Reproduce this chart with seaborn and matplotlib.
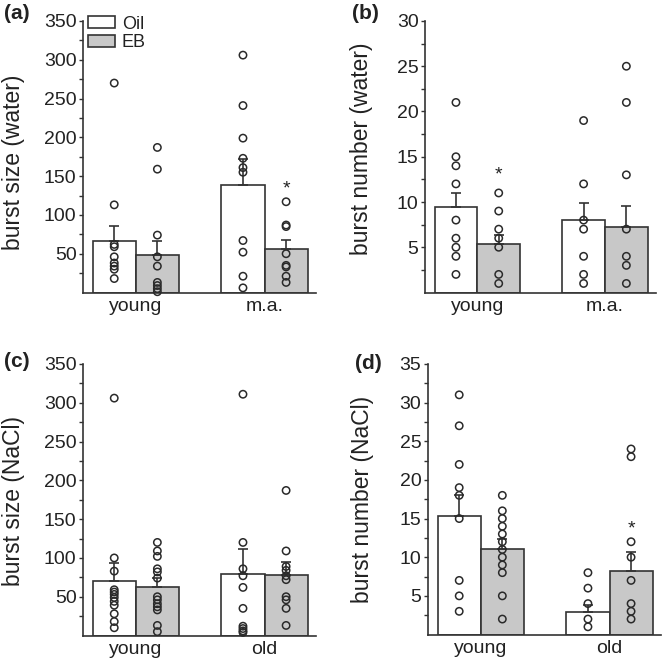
import numpy as np
import pandas as pd
import matplotlib
matplotlib.use("Agg")
import matplotlib.pyplot as plt
import seaborn as sns
from matplotlib.patches import Patch
from matplotlib.container import BarContainer

# ---------------- data ----------------
treatments = ["Oil", "EB"]
groups_water = ["young", "m.a."]
groups_nacl = ["young", "old"]

# (a) burst size (water)
a_oil_young = [270, 113, 62, 59, 46, 38, 34, 30, 18]
a_eb_young = [187, 159, 74, 46, 34, 13, 9, 5, 1]
a_oil_ma = [306, 241, 199, 173, 161, 155, 67, 52, 21, 6]
a_eb_ma = [117, 87, 85, 50, 35, 33, 21, 13]
a_mean_oil = [66, 138]
a_mean_eb = [48.6, 56.3]
a_sem_oil = [19.3, 33.5]
a_sem_eb = [18.0, 11.2]
a_star = [("m.a.", "EB", 134)]

# (b) burst number (water)
b_oil_young = [21, 15, 14, 12, 8, 6, 5, 4, 2]
b_eb_young = [11, 9, 7, 6, 5, 2, 1]
b_oil_ma = [19, 12, 8, 7, 4, 2, 1]
b_eb_ma = [25, 21, 13, 7, 4, 3, 1]
b_mean_oil = [9.4, 8.05]
b_mean_eb = [5.4, 7.2]
b_sem_oil = [1.6, 1.85]
b_sem_eb = [0.9, 2.36]
b_star = [("young", "EB", 13)]

# (c) burst size (NaCl)
c_oil_young = [306, 100, 83, 59, 56, 53, 49, 44, 39, 28, 18, 10]
c_eb_young = [120, 109, 102, 86, 82, 74, 50, 46, 41, 37, 33, 13, 5]
c_oil_old = [311, 120, 86, 77, 62, 35, 12, 9, 6, 4]
c_eb_old = [187, 109, 89, 84, 77, 72, 50, 46, 35, 13]
c_mean_oil = [70.6, 78.8]
c_mean_eb = [62.5, 78.4]
c_sem_oil = [22.4, 32.2]
c_sem_eb = [11.5, 16.6]
c_star = []

# (d) burst number (NaCl)
d_oil_young = [31, 27, 22, 19, 18, 15, 7, 5, 3]
d_eb_young = [18, 16, 15, 14, 13, 12, 11, 10, 9, 8, 5, 2]
d_oil_old = [8, 6, 4, 2, 1]
d_eb_old = [24, 23, 12, 10, 7, 4, 3, 2]
d_mean_oil = [15.3, 2.93]
d_mean_eb = [11.08, 8.2]
d_sem_oil = [2.7, 0.87]
d_sem_eb = [1.32, 2.5]
d_star = [("old", "EB", 13.6)]

# ---------------- style ----------------
EDGE = "#333333"
EB_GRAY = "#c8c8c8"
sns.set_style("ticks")
plt.rcParams["font.family"] = ["Liberation Sans", "DejaVu Sans"]
plt.rcParams["text.color"] = "#222222"

fig = plt.figure(figsize=(6.62, 6.60), dpi=100)


def panel(rect, groups, points, means, sems, ymax, major, ylabel, stars,
          label_x, label_y=0.5, legend=False):
    ax = fig.add_axes(rect)
    summ = pd.DataFrame({
        "group": [g for t in treatments for g in groups],
        "treatment": [t for t in treatments for g in groups],
        "mean": [m for t in treatments for m in means[t]],
        "sem": [s for t in treatments for s in sems[t]],
    })
    sns.barplot(data=summ, x="group", y="mean", hue="treatment",
                order=groups, hue_order=treatments,
                palette={"Oil": "white", "EB": EB_GRAY},
                width=0.67, edgecolor=EDGE, linewidth=1.2,
                errorbar=None, legend=False, ax=ax, zorder=2)

    bar_conts = [c for c in ax.containers if isinstance(c, BarContainer)]
    centers = {}
    for ti, cont in enumerate(bar_conts):
        for bar in cont:
            cx = bar.get_x() + bar.get_width() / 2
            gi = int(round(cx))
            centers[(groups[gi], treatments[ti])] = cx
    for (g, t), cx in centers.items():
        row = summ[(summ.group == g) & (summ.treatment == t)].iloc[0]
        ax.errorbar([cx], [row["mean"]], yerr=[[0], [row["sem"]]], fmt="none",
                    ecolor=EDGE, elinewidth=1.2, capsize=3.3, capthick=1.2,
                    zorder=3)

    rows = []
    for (g, t), vals in points.items():
        for v in vals:
            rows.append({"x": centers[(g, t)], "value": v})
    pts = pd.DataFrame(rows)
    sns.scatterplot(data=pts, x="x", y="value", marker="o", s=28,
                    facecolors="none", edgecolor="#2a2a2a", linewidth=1.1,
                    legend=False, ax=ax, zorder=4, clip_on=False)
    for coll in ax.collections:
        coll.set_facecolor("none")

    for g, t, y in stars:
        ax.text(centers[(g, t)], y, "*", ha="center", va="center",
                fontsize=14, color="#222222", zorder=5)

    ax.set_xlim(-0.41, 1.40)
    ax.set_ylim(0, ymax)
    ax.set_yticks(np.arange(major, ymax + 0.01, major))
    ax.set_yticks(np.arange(major / 2, ymax, major), minor=True)
    ax.set_xticks(range(len(groups)))
    ax.set_xticklabels(groups)
    ax.set_xlabel("")
    ax.set_ylabel(ylabel, fontsize=16.5, color="#222222")
    ax.yaxis.set_label_coords(label_x, label_y)
    sns.despine(ax=ax)
    for sp in ["left", "bottom"]:
        ax.spines[sp].set_linewidth(1.2)
        ax.spines[sp].set_color(EDGE)
    ax.tick_params(axis="y", which="both", direction="out", length=3.2,
                   width=1.0, color=EDGE, labelsize=14, pad=1.5,
                   labelcolor="#222222")
    ax.tick_params(axis="x", length=0, labelsize=14, pad=4,
                   labelcolor="#222222")
    if legend:
        handles = [Patch(facecolor="white", edgecolor=EDGE, linewidth=1.2, label="Oil"),
                   Patch(facecolor=EB_GRAY, edgecolor=EDGE, linewidth=1.2, label="EB")]
        ax.legend(handles=handles, loc="upper left", bbox_to_anchor=(0.02, 1.02),
                  frameon=False, fontsize=13, handlelength=1.5, handleheight=0.6,
                  handletextpad=0.4, labelspacing=0.1, borderaxespad=0, borderpad=0)
    return ax


panel([0.1254, 0.5568, 0.352, 0.4114], groups_water,
      {("young", "Oil"): a_oil_young, ("young", "EB"): a_eb_young,
       ("m.a.", "Oil"): a_oil_ma, ("m.a.", "EB"): a_eb_ma},
      {"Oil": a_mean_oil, "EB": a_mean_eb}, {"Oil": a_sem_oil, "EB": a_sem_eb},
      350, 50, "burst size (water)", a_star, -0.25, 0.48, legend=True)

panel([0.642, 0.5568, 0.349, 0.4114], groups_water,
      {("young", "Oil"): b_oil_young, ("young", "EB"): b_eb_young,
       ("m.a.", "Oil"): b_oil_ma, ("m.a.", "EB"): b_eb_ma},
      {"Oil": b_mean_oil, "EB": b_mean_eb}, {"Oil": b_sem_oil, "EB": b_sem_eb},
      30, 5, "burst number (water)", b_star, -0.225, 0.53)

panel([0.1254, 0.0371, 0.352, 0.4114], groups_nacl,
      {("young", "Oil"): c_oil_young, ("young", "EB"): c_eb_young,
       ("old", "Oil"): c_oil_old, ("old", "EB"): c_eb_old},
      {"Oil": c_mean_oil, "EB": c_mean_eb}, {"Oil": c_sem_oil, "EB": c_sem_eb},
      350, 50, "burst size (NaCl)", c_star, -0.25, 0.495)

panel([0.6465, 0.0386, 0.352, 0.4100], groups_nacl,
      {("young", "Oil"): d_oil_young, ("young", "EB"): d_eb_young,
       ("old", "Oil"): d_oil_old, ("old", "EB"): d_eb_old},
      {"Oil": d_mean_oil, "EB": d_mean_eb}, {"Oil": d_sem_oil, "EB": d_sem_eb},
      35, 5, "burst number (NaCl)", d_star, -0.232, 0.5)

for lab, px, py in [("(a)", 4, 4), ("(b)", 352, 4), ("(c)", 4, 352), ("(d)", 355, 354)]:
    fig.text(px / 662, 1 - py / 660, lab, ha="left", va="top",
             fontsize=15, fontweight="bold", color="#222222")

fig.savefig("out.png", dpi=100)
